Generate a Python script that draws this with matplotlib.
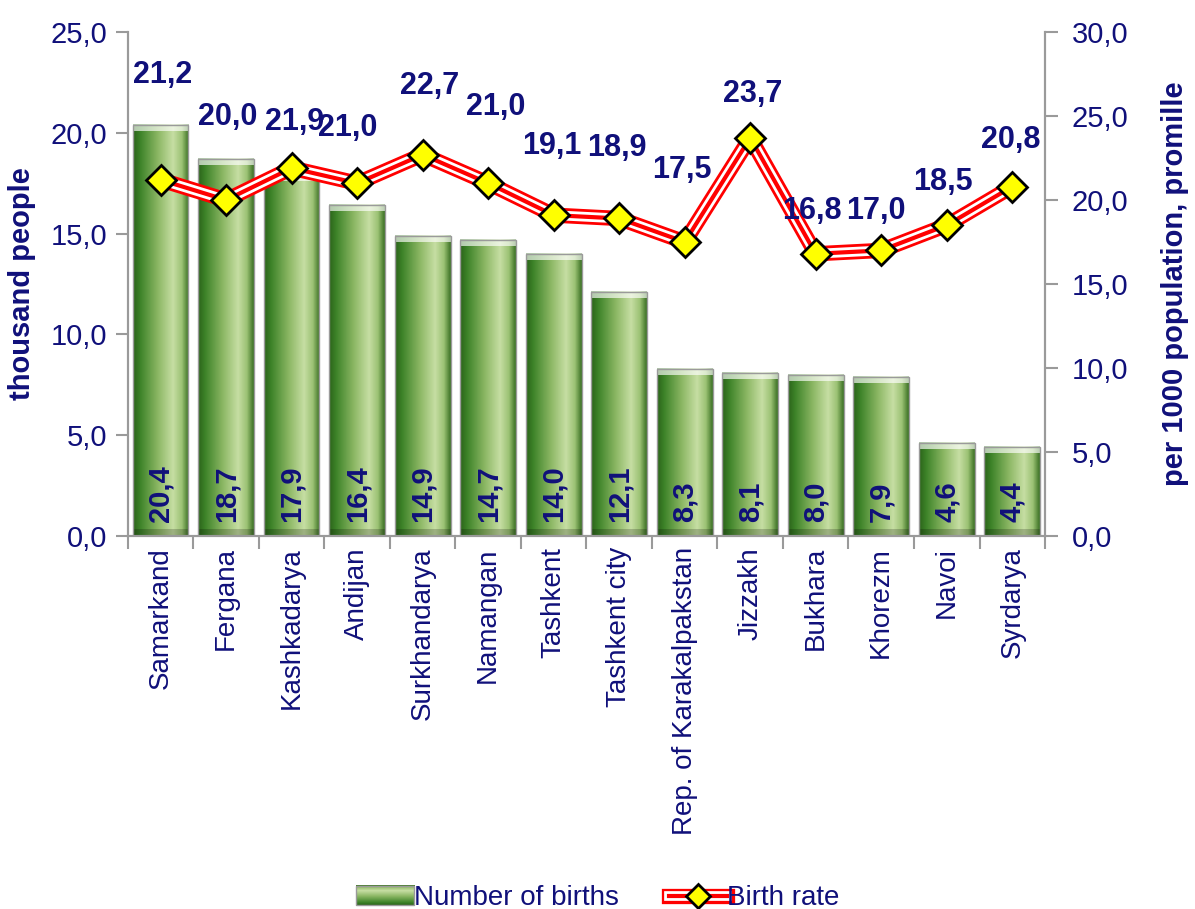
import numpy as np
import matplotlib
matplotlib.use('Agg')
import matplotlib.pyplot as plt
from matplotlib.colors import LinearSegmentedColormap
from matplotlib.lines import Line2D
from matplotlib.patches import Patch, Rectangle
from matplotlib.legend_handler import HandlerBase
from matplotlib.image import BboxImage
from matplotlib.transforms import Bbox, TransformedBbox

regions = ['Samarkand', 'Fergana', 'Kashkadarya', 'Andijan', 'Surkhandarya', 'Namangan',
           'Tashkent', 'Tashkent city', 'Rep. of Karakalpakstan', 'Jizzakh', 'Bukhara',
           'Khorezm', 'Navoi', 'Syrdarya']
births = [20.4, 18.7, 17.9, 16.4, 14.9, 14.7, 14.0, 12.1, 8.3, 8.1, 8.0, 7.9, 4.6, 4.4]
birth_rate = [21.2, 20.0, 21.9, 21.0, 22.7, 21.0, 19.1, 18.9, 17.5, 23.7, 16.8, 17.0, 18.5, 20.8]

# label offsets (pixels) for the rate labels, as placed in the original
rate_dx = [2, 2, 3, -9, 7, 8, -2, -2, -3, 2, -4, -5, -4, -2]
rate_dy = [105, 83, 46, 55, 69, 76, 69, 70, 72, 44, 43, 39, 43, 47]

navy = '#10107A'
grey = '#9A9A9A'
plt.rcParams['font.family'] = ['Liberation Sans', 'DejaVu Sans']

fig = plt.figure(figsize=(11.95, 9.09), dpi=100)
ax = fig.add_axes([0.107, 0.4103, 0.7675, 0.5545])
ax2 = ax.twinx()

x = np.arange(len(regions))
bw = 0.85
green = LinearSegmentedColormap.from_list('g', [
    (0.0, '#2C641A'), (0.12, '#3C8228'), (0.45, '#8DB865'), (0.72, '#C6DEA3'),
    (0.88, '#9CC274'), (1.0, '#3E7326')])
grad = green(np.linspace(0, 1, 80))[None, :, :3]
cap = np.clip(grad * 0.35 + 0.65, 0, 1)

bars = ax.bar(x, births, width=bw, facecolor='none', edgecolor=grey, linewidth=1.0, zorder=2)
for b in bars:
    x0, w, h = b.get_x(), b.get_width(), b.get_height()
    ax.imshow(grad, extent=(x0, x0 + w, 0, h), aspect='auto', zorder=1.5, interpolation='bilinear')
    ax.imshow(cap, extent=(x0, x0 + w, h - 0.3, h), aspect='auto', zorder=1.6, interpolation='bilinear')
    ax.imshow(np.clip(grad * 0.8, 0, 1), extent=(x0, x0 + w, 0, 0.3), aspect='auto', zorder=1.6,
              interpolation='bilinear')

for xi, v in zip(x, births):
    ax.annotate(f'{v:.1f}'.replace('.', ','), (xi, 0), xytext=(0, 14), textcoords='offset pixels',
                rotation=90, ha='center', va='bottom', fontsize=21, fontweight='bold', color=navy,
                zorder=5)

ax.set_xlim(-0.5, len(regions) - 0.5)
ax.set_ylim(0, 25)
ax2.set_ylim(0, 30)
ax.set_yticks(np.arange(0, 25.1, 5))
ax2.set_yticks(np.arange(0, 30.1, 5))
ax.set_yticklabels([f'{v:.1f}'.replace('.', ',') for v in np.arange(0, 25.1, 5)])
ax2.set_yticklabels([f'{v:.1f}'.replace('.', ',') for v in np.arange(0, 30.1, 5)])

ax.set_xticks(np.arange(-0.5, len(regions), 1))
ax.set_xticklabels([])
ax.set_xticks(x, minor=True)
ax.set_xticklabels(regions, minor=True, rotation=90, fontsize=20, color=navy)
ax.tick_params(axis='x', which='major', length=9, color=grey, width=1.5)
ax.tick_params(axis='x', which='minor', length=0, pad=8)
ax.tick_params(axis='y', length=9, color=grey, width=1.5, labelsize=21, labelcolor=navy, pad=6)
ax2.tick_params(axis='y', length=9, color=grey, width=1.5, labelsize=21, labelcolor=navy, pad=10)

for a in (ax, ax2):
    a.spines['top'].set_visible(False)
    for s in ('left', 'right', 'bottom'):
        a.spines[s].set_color(grey)
        a.spines[s].set_linewidth(1.5)

ax.set_ylabel('thousand people', fontsize=21, fontweight='bold', color=navy, labelpad=10)
ax2.set_ylabel('per 1000 population, promille', fontsize=21, fontweight='bold', color=navy,
               labelpad=24)

ax2.plot(x, birth_rate, color='red', lw=11, solid_joinstyle='miter', zorder=3)
ax2.plot(x, birth_rate, color='white', lw=7, solid_joinstyle='miter', zorder=3.1)
ax2.plot(x, birth_rate, color='red', lw=3, solid_joinstyle='miter', zorder=3.2)
ax2.plot(x, birth_rate, ls='none', marker='D', ms=15, mfc='#FFFF00', mec='black', mew=2, zorder=4)

for xi, v, dx, dy in zip(x, birth_rate, rate_dx, rate_dy):
    ax2.annotate(f'{v:.1f}'.replace('.', ','), (xi, v), xytext=(dx, dy), textcoords='offset pixels',
                 ha='center', va='center', fontsize=22, fontweight='bold', color=navy, zorder=5)


class GradBarHandler(HandlerBase):
    def create_artists(self, legend, orig_handle, xdescent, ydescent, width, height, fontsize, trans):
        bb = TransformedBbox(Bbox.from_bounds(-xdescent, -ydescent, width, height), trans)
        im = BboxImage(bb, interpolation='bilinear')
        im.set_data(np.transpose(grad, (1, 0, 2))[::-1].copy())
        border = Rectangle((-xdescent, -ydescent), width, height, facecolor='none',
                           edgecolor=grey, lw=1, transform=trans)
        return [im, border]


h_bar = Patch(facecolor='#5E9A3E', edgecolor=grey)
h_line = (Line2D([], [], color='red', lw=11), Line2D([], [], color='white', lw=7),
          Line2D([], [], color='red', lw=3),
          Line2D([], [], ls='none', marker='D', ms=12, mfc='#FFFF00', mec='black', mew=2))
leg = fig.legend([h_bar, h_line], ['Number of births', 'Birth rate'], loc='lower center',
                 bbox_to_anchor=(0.5, -0.03), ncol=2, frameon=False, fontsize=20,
                 handlelength=2.1, handletextpad=0.0, columnspacing=1.8,
                 handler_map={Patch: GradBarHandler()})
for t in leg.get_texts():
    t.set_color(navy)

fig.savefig('out.png', dpi=100)
